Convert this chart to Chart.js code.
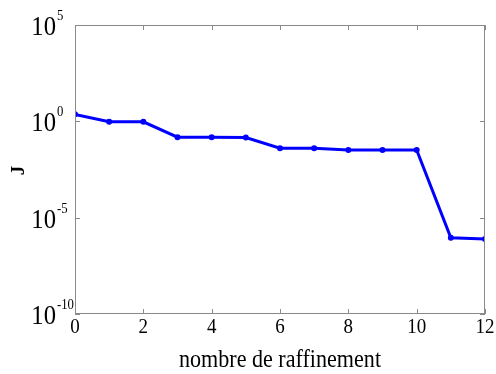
<!DOCTYPE html>
<html>
<head>
<meta charset="utf-8">
<script src="https://cdn.jsdelivr.net/npm/chart.js@4.4.1/dist/chart.umd.min.js"></script>
<style>
  html, body { margin: 0; padding: 0; background: #fff; }
  #wrap { width: 496px; height: 374px; }
</style>
</head>
<body>
<div id="wrap"><canvas id="chart"></canvas></div>
<script>
// refinement step vs. cost J (log scale)
const refinements = [0, 1, 2, 3, 4, 5, 6, 7, 8, 9, 10, 11, 12];
const jValues = [2.3, 0.95, 0.95, 0.15, 0.15, 0.145, 0.04, 0.04, 0.033, 0.033, 0.033, 9e-7, 7.8e-7];
const xTicks = [0, 2, 4, 6, 8, 10, 12];
const yExponents = [-10, -5, 0, 5];
const xTitle = 'nombre de raffinement';
const yTitle = 'J';

const serif = '"Liberation Serif", "Times New Roman", serif';

// text drawn a bit narrower than the stock font
function drawText(ctx, text, x, y, font, sx, align) {
    ctx.save();
    ctx.font = font;
    ctx.textAlign = align;
    ctx.textBaseline = 'alphabetic';
    ctx.translate(x, y);
    ctx.scale(sx, 1);
    ctx.fillText(text, 0, 0);
    ctx.restore();
}

// frame, inward ticks and all labels
const framePlugin = {
    id: 'frame',
    afterDraw(chart) {
        const ctx = chart.ctx;
        const { left, right, top, bottom } = chart.chartArea;
        const xs = chart.scales.x, ys = chart.scales.y;
        const tick = 5;

        ctx.save();
        ctx.strokeStyle = '#8a8a8a';
        ctx.lineWidth = 1;
        ctx.strokeRect(left + 0.5, top + 0.5, right - left - 1, bottom - top - 1);
        ctx.beginPath();
        xTicks.forEach(v => {
            const px = Math.round(xs.getPixelForValue(v)) + 0.5;
            ctx.moveTo(px, bottom); ctx.lineTo(px, bottom - tick);
            ctx.moveTo(px, top); ctx.lineTo(px, top + tick);
        });
        yExponents.forEach(e => {
            const py = Math.round(ys.getPixelForValue(Math.pow(10, e))) + 0.5;
            ctx.moveTo(left, py); ctx.lineTo(left + tick, py);
            ctx.moveTo(right, py); ctx.lineTo(right - tick, py);
        });
        ctx.stroke();

        ctx.fillStyle = '#000';
        xTicks.forEach(v => {
            drawText(ctx, String(v), xs.getPixelForValue(v), bottom + 19, '20px ' + serif, 0.95, 'center');
        });
        yExponents.forEach(e => {
            const py = ys.getPixelForValue(Math.pow(10, e));
            drawText(ctx, '10', 56, py + 10, '28px ' + serif, 0.88, 'right');
            drawText(ctx, String(e), 57, py - 5, '15px ' + serif, 0.85, 'left');
        });

        drawText(ctx, xTitle, (left + right) / 2, bottom + 53, '26px ' + serif, 0.85, 'center');

        ctx.save();
        ctx.translate(24, (top + bottom) / 2 + 1);
        ctx.rotate(-Math.PI / 2);
        ctx.font = 'bold 19px ' + serif;
        ctx.textAlign = 'center';
        ctx.textBaseline = 'alphabetic';
        ctx.fillText(yTitle, 0, 0);
        ctx.restore();
        ctx.restore();
    }
};

new Chart(document.getElementById('chart'), {
    type: 'line',
    data: {
        datasets: [{
            data: refinements.map((r, i) => ({ x: r, y: jValues[i] })),
            borderColor: '#0000ff',
            backgroundColor: '#0000ff',
            borderWidth: 3,
            pointRadius: 1.5,
            pointHoverRadius: 1.5,
            tension: 0
        }]
    },
    options: {
        responsive: true,
        maintainAspectRatio: false,
        animation: false,
        layout: { padding: { top: 25, right: 11, left: 0, bottom: 0 } },
        plugins: { legend: { display: false }, tooltip: { enabled: false } },
        scales: {
            x: {
                type: 'linear', min: 0, max: 12,
                grid: { display: false }, border: { display: false },
                ticks: { display: false },
                afterFit: s => { s.height = 60; }
            },
            y: {
                type: 'logarithmic', min: 1e-10, max: 1e5,
                grid: { display: false }, border: { display: false },
                ticks: { display: false },
                afterBuildTicks: s => { s.ticks = yExponents.map(e => ({ value: Math.pow(10, e) })); },
                afterFit: s => { s.width = 75; }
            }
        }
    },
    plugins: [framePlugin]
});
</script>
</body>
</html>
